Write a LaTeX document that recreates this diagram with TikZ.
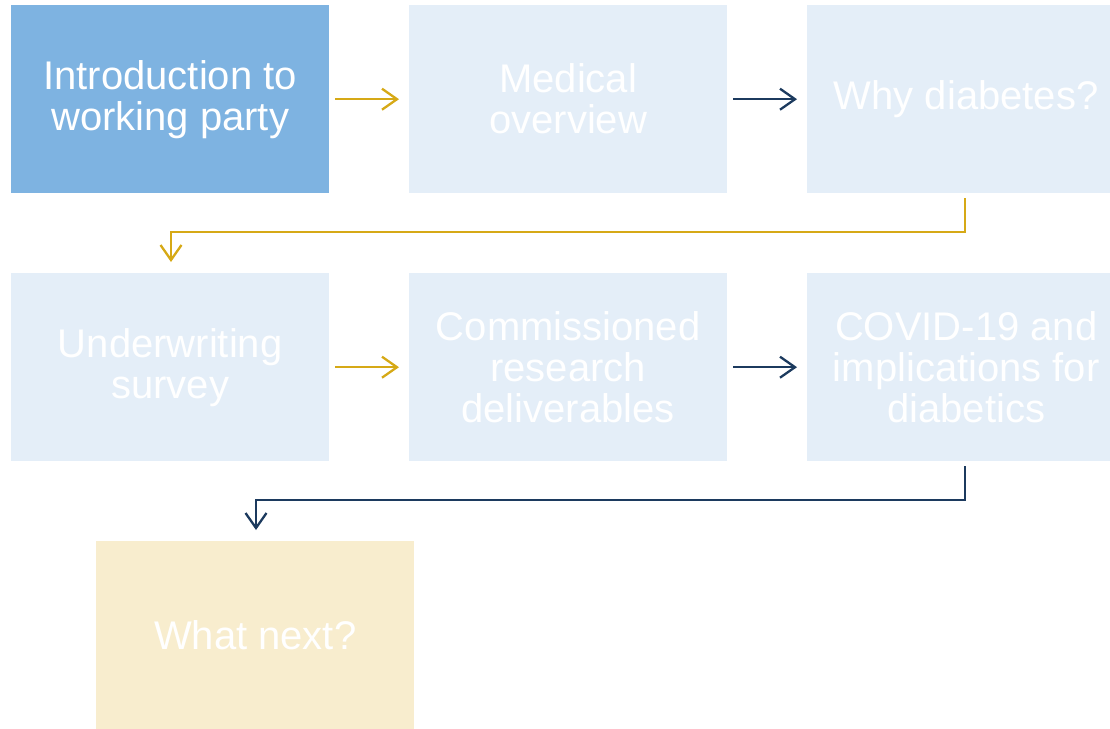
\documentclass[tikz,border=0pt]{standalone}
\usepackage{fontspec}
\setmainfont{Liberation Sans}
\usetikzlibrary{arrows.meta}
\definecolor{boxdark}{HTML}{7EB3E1}
\definecolor{boxlight}{HTML}{E4EEF8}
\definecolor{boxsand}{HTML}{F8EDCE}
\definecolor{goldline}{HTML}{D6A916}
\definecolor{navyline}{HTML}{1C3A5E}
\begin{document}
\begin{tikzpicture}[x=1pt,y=-1pt,
  stepbox/.style={minimum width=318pt,minimum height=188pt,inner sep=0pt,
    text=white,align=center,font=\fontsize{40}{41}\selectfont,anchor=north west},
  link/.style={line width=2.3pt,-{Straight Barb[length=15pt,width=21pt,line width=2.3pt]}},
  gold/.style={link,draw=goldline},
  navy/.style={link,draw=navyline}]
\useasboundingbox (0,0) rectangle (1110,728);
\clip (0,0) rectangle (1110,728);
% first row
\node[stepbox,fill=boxdark] (intro) at (11,5) {Introduction to\\working party};
\node[stepbox,fill=boxlight] (medical) at (409,5) {Medical\\overview};
\node[stepbox,fill=boxlight] (why) at (807,5) {Why diabetes?};
% second row
\node[stepbox,fill=boxlight] (survey) at (11,273) {Underwriting\\survey};
\node[stepbox,fill=boxlight] (research) at (409,273) {Commissioned\\research\\deliverables};
\node[stepbox,fill=boxlight] (covid) at (807,273) {COVID-19 and\\implications for\\diabetics};
% last step
\node[stepbox,fill=boxsand] (next) at (96,541) {What next?};
% connectors
\draw[gold] ([xshift=6pt]intro.east) -- ([xshift=-10pt]medical.west);
\draw[navy] ([xshift=6pt]medical.east) -- ([xshift=-10pt]why.west);
\draw[gold] ([xshift=6pt]survey.east) -- ([xshift=-10pt]research.west);
\draw[navy] ([xshift=6pt]research.east) -- ([xshift=-10pt]covid.west);
\coordinate (whyout) at (965,198);
\coordinate (surveyin) at (171,262);
\draw[gold] (whyout) |- (568,232) -| (surveyin);
\coordinate (covidout) at (965,466);
\coordinate (nextin) at (256,530);
\draw[navy] (covidout) |- (568,500) -| (nextin);
\end{tikzpicture}
\end{document}
